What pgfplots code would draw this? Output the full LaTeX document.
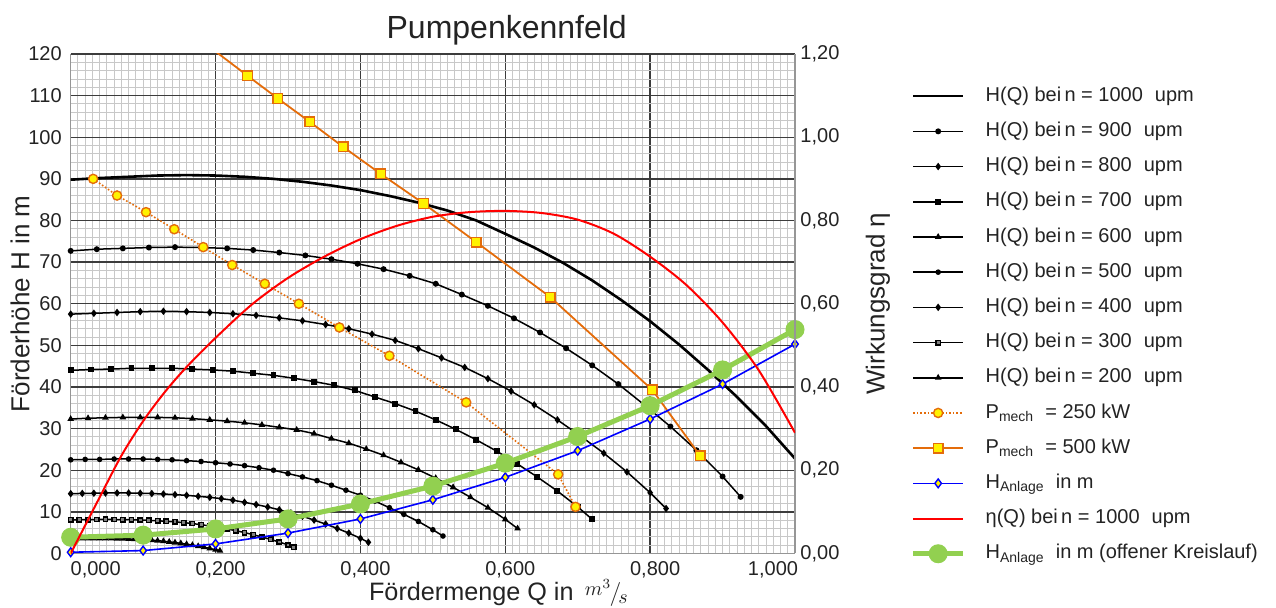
\documentclass[border=0pt]{standalone}
\usepackage{fontspec}
\setmainfont{Liberation Sans}
\usepackage{pgfplots}
\pgfplotsset{compat=1.18}
\definecolor{orangeC}{RGB}{228,108,10}
\definecolor{greenC}{RGB}{146,208,80}
\definecolor{gridmaj}{RGB}{60,60,60}
\definecolor{gridmin}{RGB}{200,200,200}
\definecolor{axgray}{RGB}{150,150,150}
\definecolor{txt}{RGB}{35,35,35}
\pgfplotsset{
  basestyle/.style={
    scale only axis, width=362.15pt, height=249.75pt,
    xmin=0, xmax=1,
    major tick length=0pt, minor tick length=0pt,
    axis line style={axgray, line width=0.6pt},
    tick label style={font=\fontsize{10}{12}\selectfont, text=txt},
    label style={font=\fontsize{13}{15}\selectfont, text=txt},
  }
}
\begin{document}
\begin{tikzpicture}
\path[use as bounding box] (-35.35pt,-27.25pt) rectangle (602.65pt,276.75pt);
\begin{axis}[
  basestyle,
  ymin=0, ymax=120,
  clip mode=individual,
  axis x line*=bottom, axis y line*=left,
  xtick={0.2,0.4,0.6,0.8},
  extra x ticks={0,1},
  extra x tick labels={{\makebox[0pt][l]{\hspace{-2.5pt}0,000}},{\makebox[0pt][r]{1,000\hspace{1pt}}}},
  extra x tick style={grid=none},
  ytick={10,20,30,40,50,60,70,80,90,100,110,120},
  extra y ticks={0},
  extra y tick style={grid=none},
  minor xtick={0,0.01,...,1.0},
  minor ytick={0,2,...,120},
  grid=both,
  major grid style={gridmaj, line width=0.7pt},
  minor grid style={gridmin, line width=0.45pt},
  xticklabel style={/pgf/number format/.cd, fixed, fixed zerofill, precision=3, use comma, assume math mode=true, /tikz/.cd, xshift=2.5pt, yshift=-0.6pt},
  yticklabel style={/pgf/number format/assume math mode=true, xshift=-1pt},
  xlabel={Fördermenge Q in \,\raisebox{2.5pt}{\fontsize{10}{12}\selectfont$m^{3}$}\hspace{-0.8pt}{\fontsize{13}{13}\selectfont$/$}\hspace{-1.5pt}\raisebox{-1.5pt}{\fontsize{10}{12}\selectfont$s$}},
  xlabel style={at={(rel axis cs:0.5906,-0.094)}, anchor=base, inner sep=0pt, font=\fontsize{12.6}{14}\selectfont},
  ylabel={Förderhöhe H in m},
  ylabel style={at={(rel axis cs:-0.070,0.5)}, anchor=center, inner sep=0pt},
  title={Pumpenkennfeld},
  every axis title shift=0pt,
  title style={at={(rel axis cs:0.602,1.032)}, anchor=base, inner sep=0pt, font=\fontsize{16}{19}\selectfont, text=txt},
  legend style={at={(rel axis cs:1.1597,0.934)}, anchor=north west, draw=none, fill=none,
    inner sep=0pt, outer sep=0pt, row sep=8.4pt, column sep=10pt,
    font=\fontsize{10}{12}\selectfont, text=txt,
    nodes={inner sep=0pt, text height=7.2pt, text depth=2pt}},
  legend cell align=left,
  legend image code/.code={\draw[mark repeat=2,mark phase=2,#1] plot coordinates {(0pt,0pt) (12.5pt,0pt) (25pt,0pt)};},
]
% n = 1000
\addplot[black, line width=1.3pt, no marks] coordinates {
(0,89.8) (0.04,90.2) (0.08,90.5) (0.12,90.8) (0.16,90.9) (0.2,90.8) (0.24,90.5) (0.28,90.0) (0.32,89.3) (0.36,88.4) (0.4,87.3) (0.44,85.9) (0.48,84.3) (0.52,82.4) (0.56,80.0) (0.6,76.8) (0.64,73.5) (0.68,69.8) (0.72,65.6) (0.76,60.9) (0.8,55.8) (0.84,50.2) (0.88,44.1) (0.92,37.6) (0.96,30.6) (1.0,22.8) (1.028,16.8)};
\addlegendentry{H(Q) bei\,n = 1000\hspace{0.6em}upm}
% n = 900
\addplot[black, line width=0.75pt, mark=*, mark size=1.1pt] coordinates {
(0,72.7) (0.036,73.1) (0.072,73.3) (0.108,73.5) (0.144,73.6) (0.18,73.5) (0.216,73.3) (0.252,72.9) (0.288,72.3) (0.324,71.6) (0.36,70.7) (0.396,69.6) (0.432,68.3) (0.468,66.7) (0.504,64.8) (0.54,62.2) (0.576,59.5) (0.612,56.5) (0.648,53.1) (0.684,49.3) (0.72,45.2) (0.756,40.7) (0.792,35.7) (0.828,30.5) (0.864,24.8) (0.9,18.5) (0.925,13.6)};
\addlegendentry{H(Q) bei\,n = 900\hspace{0.6em}upm}
% n = 800
\addplot[black, line width=0.75pt, mark=diamond*, mark size=1.3pt] coordinates {
(0,57.5) (0.032,57.7) (0.064,57.9) (0.096,58.1) (0.128,58.2) (0.16,58.1) (0.192,57.9) (0.224,57.6) (0.256,57.2) (0.288,56.6) (0.32,55.9) (0.352,55.0) (0.384,54.0) (0.416,52.7) (0.448,51.2) (0.48,49.2) (0.512,47.0) (0.544,44.7) (0.576,42.0) (0.608,39.0) (0.64,35.7) (0.672,32.1) (0.704,28.2) (0.736,24.1) (0.768,19.6) (0.8,14.6) (0.822,10.8)};
\addlegendentry{H(Q) bei\,n = 800\hspace{0.6em}upm}
% n = 700
\addplot[black, line width=0.75pt, mark=square*, mark size=1.1pt] coordinates {
(0,44.0) (0.028,44.2) (0.056,44.3) (0.084,44.5) (0.112,44.5) (0.14,44.5) (0.168,44.3) (0.196,44.1) (0.224,43.8) (0.252,43.3) (0.28,42.8) (0.308,42.1) (0.336,41.3) (0.364,40.4) (0.392,39.2) (0.42,37.6) (0.448,36.0) (0.476,34.2) (0.504,32.1) (0.532,29.8) (0.56,27.3) (0.588,24.6) (0.616,21.6) (0.644,18.4) (0.672,15.0) (0.7,11.2) (0.72,8.2)};
\addlegendentry{H(Q) bei\,n = 700\hspace{0.6em}upm}
% n = 600
\addplot[black, line width=0.75pt, mark=triangle*, mark size=1.2pt] coordinates {
(0,32.3) (0.024,32.5) (0.048,32.6) (0.072,32.7) (0.096,32.7) (0.12,32.7) (0.144,32.6) (0.168,32.4) (0.192,32.1) (0.216,31.8) (0.24,31.4) (0.264,30.9) (0.288,30.3) (0.312,29.7) (0.336,28.8) (0.36,27.6) (0.384,26.5) (0.408,25.1) (0.432,23.6) (0.456,21.9) (0.48,20.1) (0.504,18.1) (0.528,15.9) (0.552,13.5) (0.576,11.0) (0.6,8.2) (0.617,6.0)};
\addlegendentry{H(Q) bei\,n = 600\hspace{0.6em}upm}
% n = 500
\addplot[black, line width=0.75pt, mark=*, mark size=1.0pt] coordinates {
(0,22.5) (0.02,22.6) (0.04,22.6) (0.06,22.7) (0.08,22.7) (0.1,22.7) (0.12,22.6) (0.14,22.5) (0.16,22.3) (0.18,22.1) (0.2,21.8) (0.22,21.5) (0.24,21.1) (0.26,20.6) (0.28,20.0) (0.3,19.2) (0.32,18.4) (0.34,17.5) (0.36,16.4) (0.38,15.2) (0.4,14.0) (0.42,12.6) (0.44,11.0) (0.46,9.4) (0.48,7.7) (0.5,5.7) (0.514,4.2)};
\addlegendentry{H(Q) bei\,n = 500\hspace{0.6em}upm}
% n = 400
\addplot[black, line width=0.75pt, mark=diamond*, mark size=1.3pt] coordinates {
(0,14.37) (0.016,14.43) (0.032,14.48) (0.048,14.53) (0.064,14.54) (0.08,14.53) (0.096,14.48) (0.112,14.40) (0.128,14.29) (0.144,14.14) (0.16,13.97) (0.176,13.74) (0.192,13.49) (0.208,13.18) (0.224,12.80) (0.24,12.29) (0.256,11.76) (0.272,11.17) (0.288,10.50) (0.304,9.74) (0.32,8.93) (0.336,8.03) (0.352,7.06) (0.368,6.02) (0.384,4.90) (0.4,3.65) (0.411,2.69)};
\addlegendentry{H(Q) bei\,n = 400\hspace{0.6em}upm}
% n = 300
\addplot[black, line width=0.75pt, mark=square*, mark size=1.1pt, mark options={fill=gray}] coordinates {
(0,8.08) (0.012,8.12) (0.024,8.15) (0.036,8.17) (0.048,8.18) (0.06,8.17) (0.072,8.15) (0.084,8.10) (0.096,8.04) (0.108,7.96) (0.12,7.86) (0.132,7.73) (0.144,7.59) (0.156,7.42) (0.168,7.20) (0.18,6.91) (0.192,6.62) (0.204,6.28) (0.216,5.90) (0.228,5.48) (0.24,5.02) (0.252,4.52) (0.264,3.97) (0.276,3.38) (0.288,2.75) (0.3,2.05) (0.308,1.51)};
\addlegendentry{H(Q) bei\,n = 300\hspace{0.6em}upm}
% n = 200
\addplot[black, line width=0.75pt, mark=triangle*, mark size=1.2pt] coordinates {
(0,3.59) (0.008,3.61) (0.016,3.62) (0.024,3.63) (0.032,3.64) (0.04,3.63) (0.048,3.62) (0.056,3.60) (0.064,3.57) (0.072,3.54) (0.08,3.49) (0.088,3.44) (0.096,3.37) (0.104,3.30) (0.112,3.20) (0.12,3.07) (0.128,2.94) (0.136,2.79) (0.144,2.62) (0.152,2.44) (0.16,2.23) (0.168,2.01) (0.176,1.76) (0.184,1.50) (0.192,1.22) (0.2,0.91) (0.206,0.67)};
\addlegendentry{H(Q) bei\,n = 200\hspace{0.6em}upm}
% P_mech = 250 kW
\addplot[orangeC, line width=0.8pt, densely dotted, mark=*, mark size=2.3pt, mark options={solid, fill=yellow, draw=orangeC, line width=0.7pt}] coordinates {
(0.031,90.0) (0.064,86.0) (0.104,82.0) (0.143,77.9) (0.183,73.6) (0.223,69.3) (0.268,64.8) (0.315,60.0) (0.371,54.3) (0.440,47.5) (0.546,36.3) (0.673,19.0) (0.697,11.2)};
\addlegendentry{P\textsubscript{mech}\ \ = 250 kW}
% P_mech = 500 kW: segment leaving the top of the axis (no marks)
\addplot[orangeC, line width=0.9pt, no marks, forget plot] coordinates {
(0.200,120.6) (0.244,114.8)};
\addplot[orangeC, line width=0.9pt, mark=square*, mark size=2.4pt, mark options={fill=yellow, draw=orangeC, line width=0.7pt}] coordinates {
(0.244,114.8) (0.286,109.3) (0.330,103.7) (0.376,97.7) (0.428,91.2) (0.487,84.1) (0.560,74.8) (0.662,61.6) (0.803,39.3) (0.869,23.5)};
\addlegendentry{P\textsubscript{mech}\ \ = 500 kW}
% H_Anlage
\addplot[blue, line width=0.8pt, mark=diamond*, mark size=2.2pt, mark options={fill=yellow, draw=blue, line width=0.7pt}] coordinates {
(0,0.3) (0.1,0.7) (0.2,2.3) (0.3,4.9) (0.4,8.3) (0.5,12.9) (0.6,18.3) (0.7,24.7) (0.8,32.3) (0.9,40.7) (1.0,50.3)};
\addlegendentry{H\textsubscript{Anlage}\ \ in m}
\addlegendimage{red, line width=1pt, no marks}
\addlegendentry{η(Q) bei\,n = 1000\hspace{0.6em}upm}
% H_Anlage offener Kreislauf
\addplot[greenC, line width=2.5pt, mark=*, mark size=4.5pt, mark options={fill=greenC, draw=greenC, line width=0.5pt}] coordinates {
(0,3.9) (0.1,4.4) (0.2,5.9) (0.3,8.3) (0.4,11.9) (0.5,16.2) (0.6,21.7) (0.7,28.1) (0.8,35.5) (0.9,44.1) (1.0,53.8)};
\addlegendentry{H\textsubscript{Anlage}\ \ in m (offener Kreislauf)}
\end{axis}
\begin{axis}[
  basestyle,
  ymin=0, ymax=1.2,
  axis x line=none, axis y line*=right,
  ytick={0,0.2,0.4,0.6,0.8,1.0,1.2},
  yticklabel style={/pgf/number format/.cd, fixed, fixed zerofill, precision=2, use comma, assume math mode=true, /tikz/.cd, xshift=-0.8pt},
  ylabel={Wirkungsgrad η},
  ylabel style={at={(rel axis cs:1.1146,0.5)}, anchor=center, inner sep=0pt},
]
\addplot[red, line width=1pt, smooth] coordinates {
(0,0) (0.04,0.135) (0.07,0.235) (0.10,0.318) (0.13,0.388) (0.16,0.448) (0.20,0.518) (0.25,0.598) (0.30,0.662) (0.35,0.713) (0.40,0.755) (0.45,0.787) (0.50,0.809) (0.55,0.820) (0.60,0.823) (0.65,0.818) (0.70,0.802) (0.75,0.768) (0.80,0.713) (0.85,0.645) (0.90,0.555) (0.95,0.44) (1.00,0.29)};
\end{axis}
\end{tikzpicture}
\end{document}
